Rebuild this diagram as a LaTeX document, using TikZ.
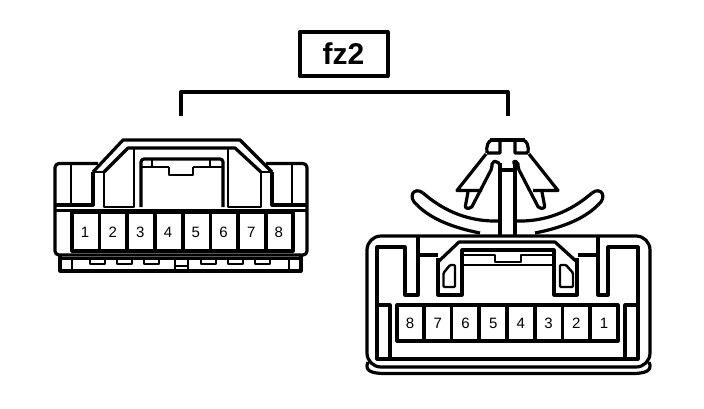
\documentclass[tikz,border=0pt]{standalone}
\usepackage{fontspec}
\setmainfont{Liberation Sans}
\usetikzlibrary{positioning}

\begin{document}
\begin{tikzpicture}[x=1pt,y=-1pt,line join=round,node distance=27.7pt]
	\tikzstyle{num}=[inner sep=0pt,font=\fontsize{15}{15}\selectfont]
	\tikzstyle{wall}=[line width=3.2pt]
	\tikzstyle{thin}=[line width=2.4pt]
	\useasboundingbox (0,0) rectangle (704,408);
	% label and bracket
		\node[draw,line width=4pt,minimum width=88pt,minimum height=44pt,inner sep=0pt,font=\fontsize{30}{30}\selectfont\bfseries] (fz) at (343.5,54) {fz2};
		\coordinate (bl) at (181,116);
		\coordinate (br) at (508,116);
		\draw[line width=4pt] (bl) -- (181,92) -- (508,92) -- (br);
	% left connector
		\draw[wall,rounded corners=4pt] (98,163.5) -- (55,163.5) -- (55,255) -- (307,255) -- (307,163.5) -- (266,163.5);
		\draw[wall] (93,172) -- (123,140) -- (240,140) -- (272,172);
		\draw[wall] (104,172) -- (128,148) -- (235,148) -- (261,172);
		\draw[thin] (93,172) -- (104,172) (261,172) -- (272,172);
		\draw[wall] (93,172) -- (93,205) -- (55,205);
		\draw[thin] (104,172) -- (104,207) -- (134,207) -- (134,148);
		\draw[wall] (272,172) -- (272,205) -- (307,205);
		\draw[thin] (261,172) -- (261,207) -- (228,207) -- (228,148);
		\draw[wall,rounded corners=3pt] (141,207) -- (141,159) -- (223,159) -- (223,207);
		\draw[thin] (141,167) -- (169,167) (193,167) -- (223,167) (152,159) -- (152,167) (210,159) -- (210,167);
		\draw[thin] (169,167) -- (169,175) -- (193,175) -- (193,167);
		\draw[thin] (71,163) -- (71,205) (292,163) -- (292,205);
		\draw[thin] (55,210.5) -- (307,210.5);
		\draw[wall] (72,212) rectangle (293,251);
		\draw[wall] (99.5,212) -- (99.5,251) (127,212) -- (127,251) (155,212) -- (155,251) (183,212) -- (183,251) (210.5,212) -- (210.5,251) (238,212) -- (238,251) (266,212) -- (266,251);
		\draw[thin] (60,258.5) -- (301,258.5);
		\draw[wall] (60,255) -- (60,271) -- (301,271) -- (301,255);
		\draw[thin] (72,258) -- (72,271) (289,258) -- (289,271);
		\draw[thin] (90,258) -- (90,264) -- (105,264) -- (105,258) (117,258) -- (117,264) -- (132,264) -- (132,258) (144,258) -- (144,264) -- (159,264) -- (159,258);
		\draw[thin] (201,258) -- (201,264) -- (216,264) -- (216,258) (228,258) -- (228,264) -- (243,264) -- (243,258) (255,258) -- (255,264) -- (270,264) -- (270,258);
		\draw[thin] (175,258) -- (175,271) (188,258) -- (188,271) (175,266) -- (188,266);
		\node[num] (l1) at (85,232) {1};
		\node[num] (l2) [right of=l1] {2};
		\node[num] (l3) [right of=l2] {3};
		\node[num] (l4) [right of=l3] {4};
		\node[num] (l5) [right of=l4] {5};
		\node[num] (l6) [right of=l5] {6};
		\node[num] (l7) [right of=l6] {7};
		\node[num] (l8) [right of=l7] {8};
	% right connector
		\draw[wall,rounded corners=14pt] (367,236) rectangle (650,367);
		\draw[wall] (368,362) .. controls (364,371) and (372,373.5) .. (385,373.5) -- (632,373.5) .. controls (645,373.5) and (653,371) .. (649,362);
		\draw[wall] (418,236) -- (418,295) -- (405,295) -- (405,247) -- (377,247) -- (377,359) -- (638,359) -- (638,247) -- (608,247) -- (608,295) -- (598,295) -- (598,236);
		\draw[wall] (418,255) -- (438,255) (578,255) -- (598,255);
		\draw[wall] (438,262) -- (459,242) -- (555,242) -- (577,262);
		\draw[wall] (438,258) -- (438,295) -- (462,295) -- (462,250) -- (554,250) -- (554,295) -- (577,295) -- (577,258);
		\draw[thin] (462,255) -- (495,255) -- (495,262) -- (521,262) -- (521,255) -- (554,255);
		\draw[thin] (462,265) -- (554,265);
		\draw[thin,rounded corners=1pt] (443.5,287) -- (443.5,273) -- (450,265) -- (455,265) -- (455,287) -- cycle;
		\draw[thin,rounded corners=1pt] (560,287) -- (560,265) -- (566,265) -- (573,273) -- (573,287) -- cycle;
		\draw[wall] (397,305) rectangle (618,341);
		\draw[wall] (424,305) -- (424,341) (451.5,305) -- (451.5,341) (479,305) -- (479,341) (507,305) -- (507,341) (535,305) -- (535,341) (562.5,305) -- (562.5,341) (590,305) -- (590,341);
		\draw[wall] (377,305) -- (390,305) -- (390,359) (625,359) -- (625,305) -- (638,305);
		\node[num] (r1) at (604,323) {1};
		\node[num] (r2) [left of=r1] {2};
		\node[num] (r3) [left of=r2] {3};
		\node[num] (r4) [left of=r3] {4};
		\node[num] (r5) [left of=r4] {5};
		\node[num] (r6) [left of=r5] {6};
		\node[num] (r7) [left of=r6] {7};
		\node[num] (r8) [left of=r7] {8};
	% clip on top
		\draw[wall] (500,236) -- (500,163) (515,236) -- (515,163) (500,170) -- (515,170) (490,140) -- (525,140);
		\draw[wall] (487,153) -- (500,153) -- (500,141) (487,153) .. controls (486,146) and (488,141) .. (492,140);
		\draw[wall] (528,153) -- (515,153) -- (515,141) (528,153) .. controls (529,146) and (527,141) .. (523,140);
		\draw[wall] (486,154) -- (457,190.5) -- (482,190.5);
		\draw[wall] (529,154) -- (558,190.5) -- (533,190.5);
		\draw[wall,rounded corners=2pt] (468,192) -- (465,208) -- (471,208.5) -- (492,168) -- (492,162) -- (497,161) -- (500,165);
		\draw[wall,rounded corners=2pt] (542,192) -- (545,208) -- (539,208.5) -- (518,168) -- (518,162) -- (513,161) -- (515,165);
		\draw[wall] (423,193) .. controls (445,212) and (470,222) .. (500,221);
		\draw[wall] (417,205) .. controls (432,220) and (455,228) .. (480,233);
		\draw[wall] (423,193) .. controls (414,186) and (407,197) .. (417,205);
		\draw[wall] (592,193) .. controls (570,212) and (545,222) .. (515,221);
		\draw[wall] (598,205) .. controls (583,220) and (560,228) .. (535,233);
		\draw[wall] (592,193) .. controls (601,186) and (608,197) .. (598,205);
\end{tikzpicture}
\end{document}
